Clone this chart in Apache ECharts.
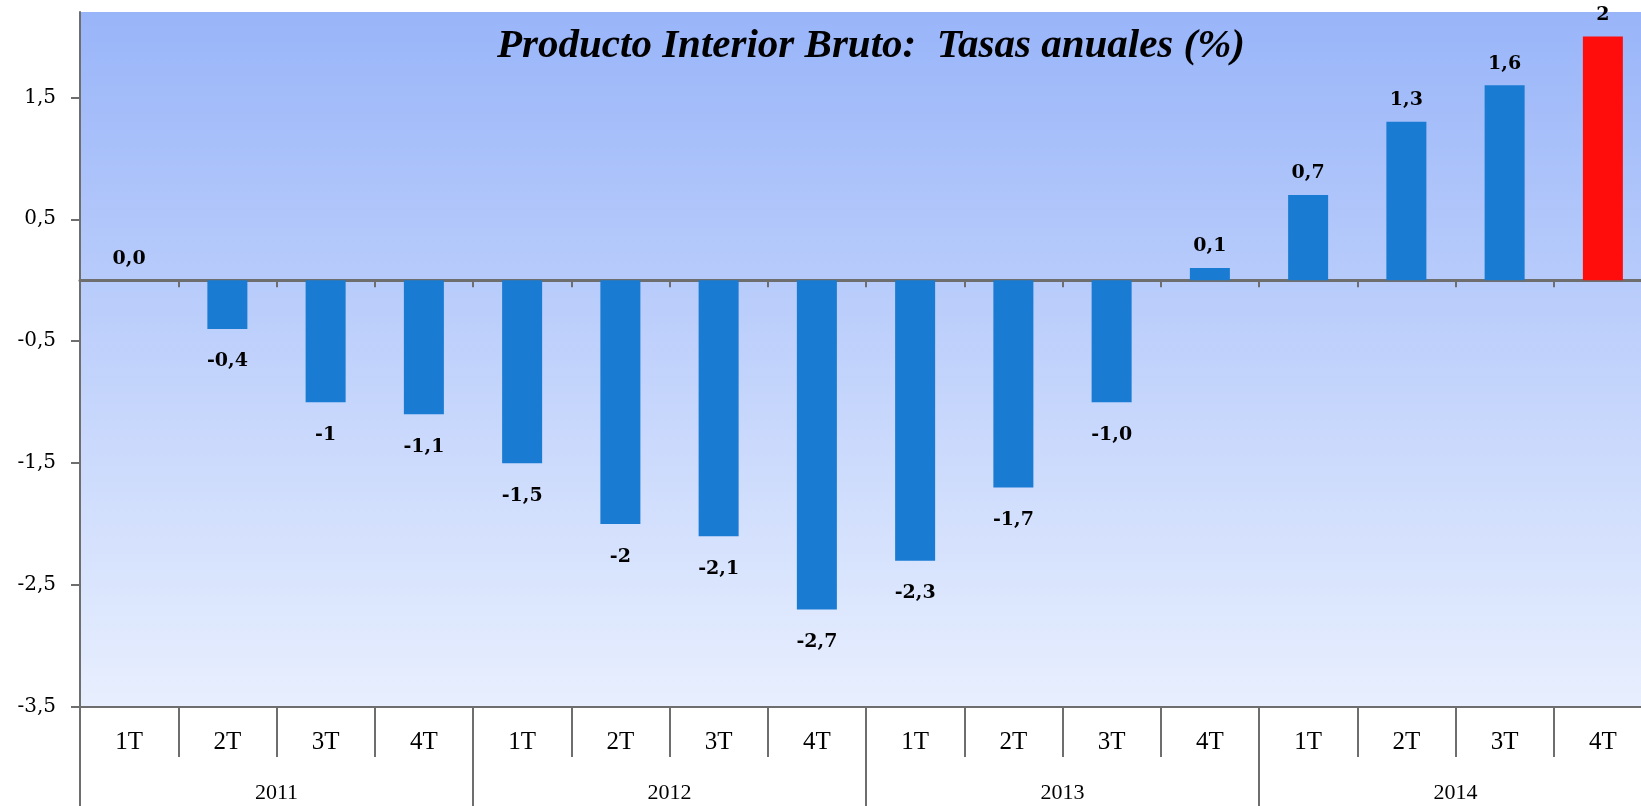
<!DOCTYPE html>
<html>
<head>
    <meta charset="UTF-8">
    <title>Producto Interior Bruto: Tasas anuales (%)</title>
    <style>
        html, body { margin: 0; padding: 0; background: #fff; overflow: hidden; }
    </style>
</head>
<body>
<!-- el grafico original queda cortado por la derecha: el lienzo es algo mas ancho que la ventana -->
<div id="chart" style="width: 1652px;height: 806px;"></div>
<script src="https://cdn.jsdelivr.net/npm/echarts@6/dist/echarts.min.js"></script>
<script>
    // datos
    var quarters = ['1T', '2T', '3T', '4T', '1T', '2T', '3T', '4T', '1T', '2T', '3T', '4T', '1T', '2T', '3T', '4T'];
    var years = ['2011', '2012', '2013', '2014'];
    var values = [0, -0.4, -1, -1.1, -1.5, -2, -2.1, -2.7, -2.3, -1.7, -1.0, 0.1, 0.7, 1.3, 1.6, 2];
    var valueLabels = ['0,0', '-0,4', '-1', '-1,1', '-1,5', '-2', '-2,1', '-2,7', '-2,3', '-1,7', '-1,0', '0,1', '0,7', '1,3', '1,6', '2'];

    var serif = '"Liberation Serif", "DejaVu Serif", serif';
    var wideSerif = '"DejaVu Serif", "Liberation Serif", serif';
    var axisGrey = '#6e6e6e';

    var barData = values.map(function (v, i) {
        var last = i === values.length - 1;
        return {
            value: v,
            itemStyle: { color: last ? '#ff0d0d' : '#1a7bd3' },
            label: {
                show: true,
                position: v < 0 ? 'bottom' : 'top',
                distance: v < 0 ? 23 : 12,
                formatter: valueLabels[i]
            }
        };
    });

    var chart = echarts.init(document.getElementById('chart'));
    var option = {
        animation: false,
        title: {
            text: 'Producto Interior Bruto:  Tasas anuales (%)',
            left: 866,
            top: 21,
            textAlign: 'center',
            textStyle: {
                fontFamily: serif,
                fontStyle: 'italic',
                fontWeight: 'bold',
                fontSize: 41,
                color: '#000'
            }
        },
        grid: {
            left: 80,
            top: 12,
            right: 0,
            bottom: 99,
            show: true,
            borderWidth: 0,
            backgroundColor: new echarts.graphic.LinearGradient(0, 0, 0, 1, [
                { offset: 0, color: '#99b5f9' },
                { offset: 1, color: '#e8effe' }
            ])
        },
        xAxis: [{
            type: 'category',
            data: quarters,
            position: 'bottom',
            axisLine: { show: true, onZero: false, lineStyle: { color: axisGrey, width: 2 } },
            axisTick: { show: true, length: 50, lineStyle: { color: axisGrey, width: 2 } },
            axisLabel: { margin: 23, fontFamily: serif, fontSize: 25, color: '#000' }
        }, {
            type: 'category',
            data: quarters,
            position: 'bottom',
            axisLine: { show: true, onZero: true, lineStyle: { color: axisGrey, width: 3 } },
            axisTick: { show: true, length: 7, lineStyle: { color: axisGrey, width: 2 } },
            axisLabel: { show: false }
        }, {
            type: 'category',
            data: years,
            position: 'bottom',
            axisLine: { show: false, onZero: false },
            axisTick: { show: true, length: 99, lineStyle: { color: axisGrey, width: 2 } },
            axisLabel: { margin: 75, fontFamily: serif, fontSize: 22, color: '#000' }
        }],
        yAxis: {
            type: 'value',
            min: -3.5,
            max: 2.2,
            interval: 1,
            splitLine: { show: false },
            axisLine: { show: true, lineStyle: { color: axisGrey, width: 2 } },
            axisTick: { show: true, length: 9, lineStyle: { color: axisGrey, width: 2 } },
            axisLabel: {
                showMaxLabel: false,
                margin: 24,
                fontFamily: wideSerif,
                fontSize: 20,
                color: '#000',
                formatter: function (v) { return String(Math.round(v * 10) / 10).replace('.', ','); }
            }
        },
        series: [{
            type: 'bar',
            xAxisIndex: 0,
            data: barData,
            barWidth: 40,
            label: {
                fontFamily: wideSerif,
                fontWeight: 'bold',
                fontSize: 19,
                color: '#000'
            }
        }]
    };
    chart.setOption(option);
</script>
</body>
</html>
